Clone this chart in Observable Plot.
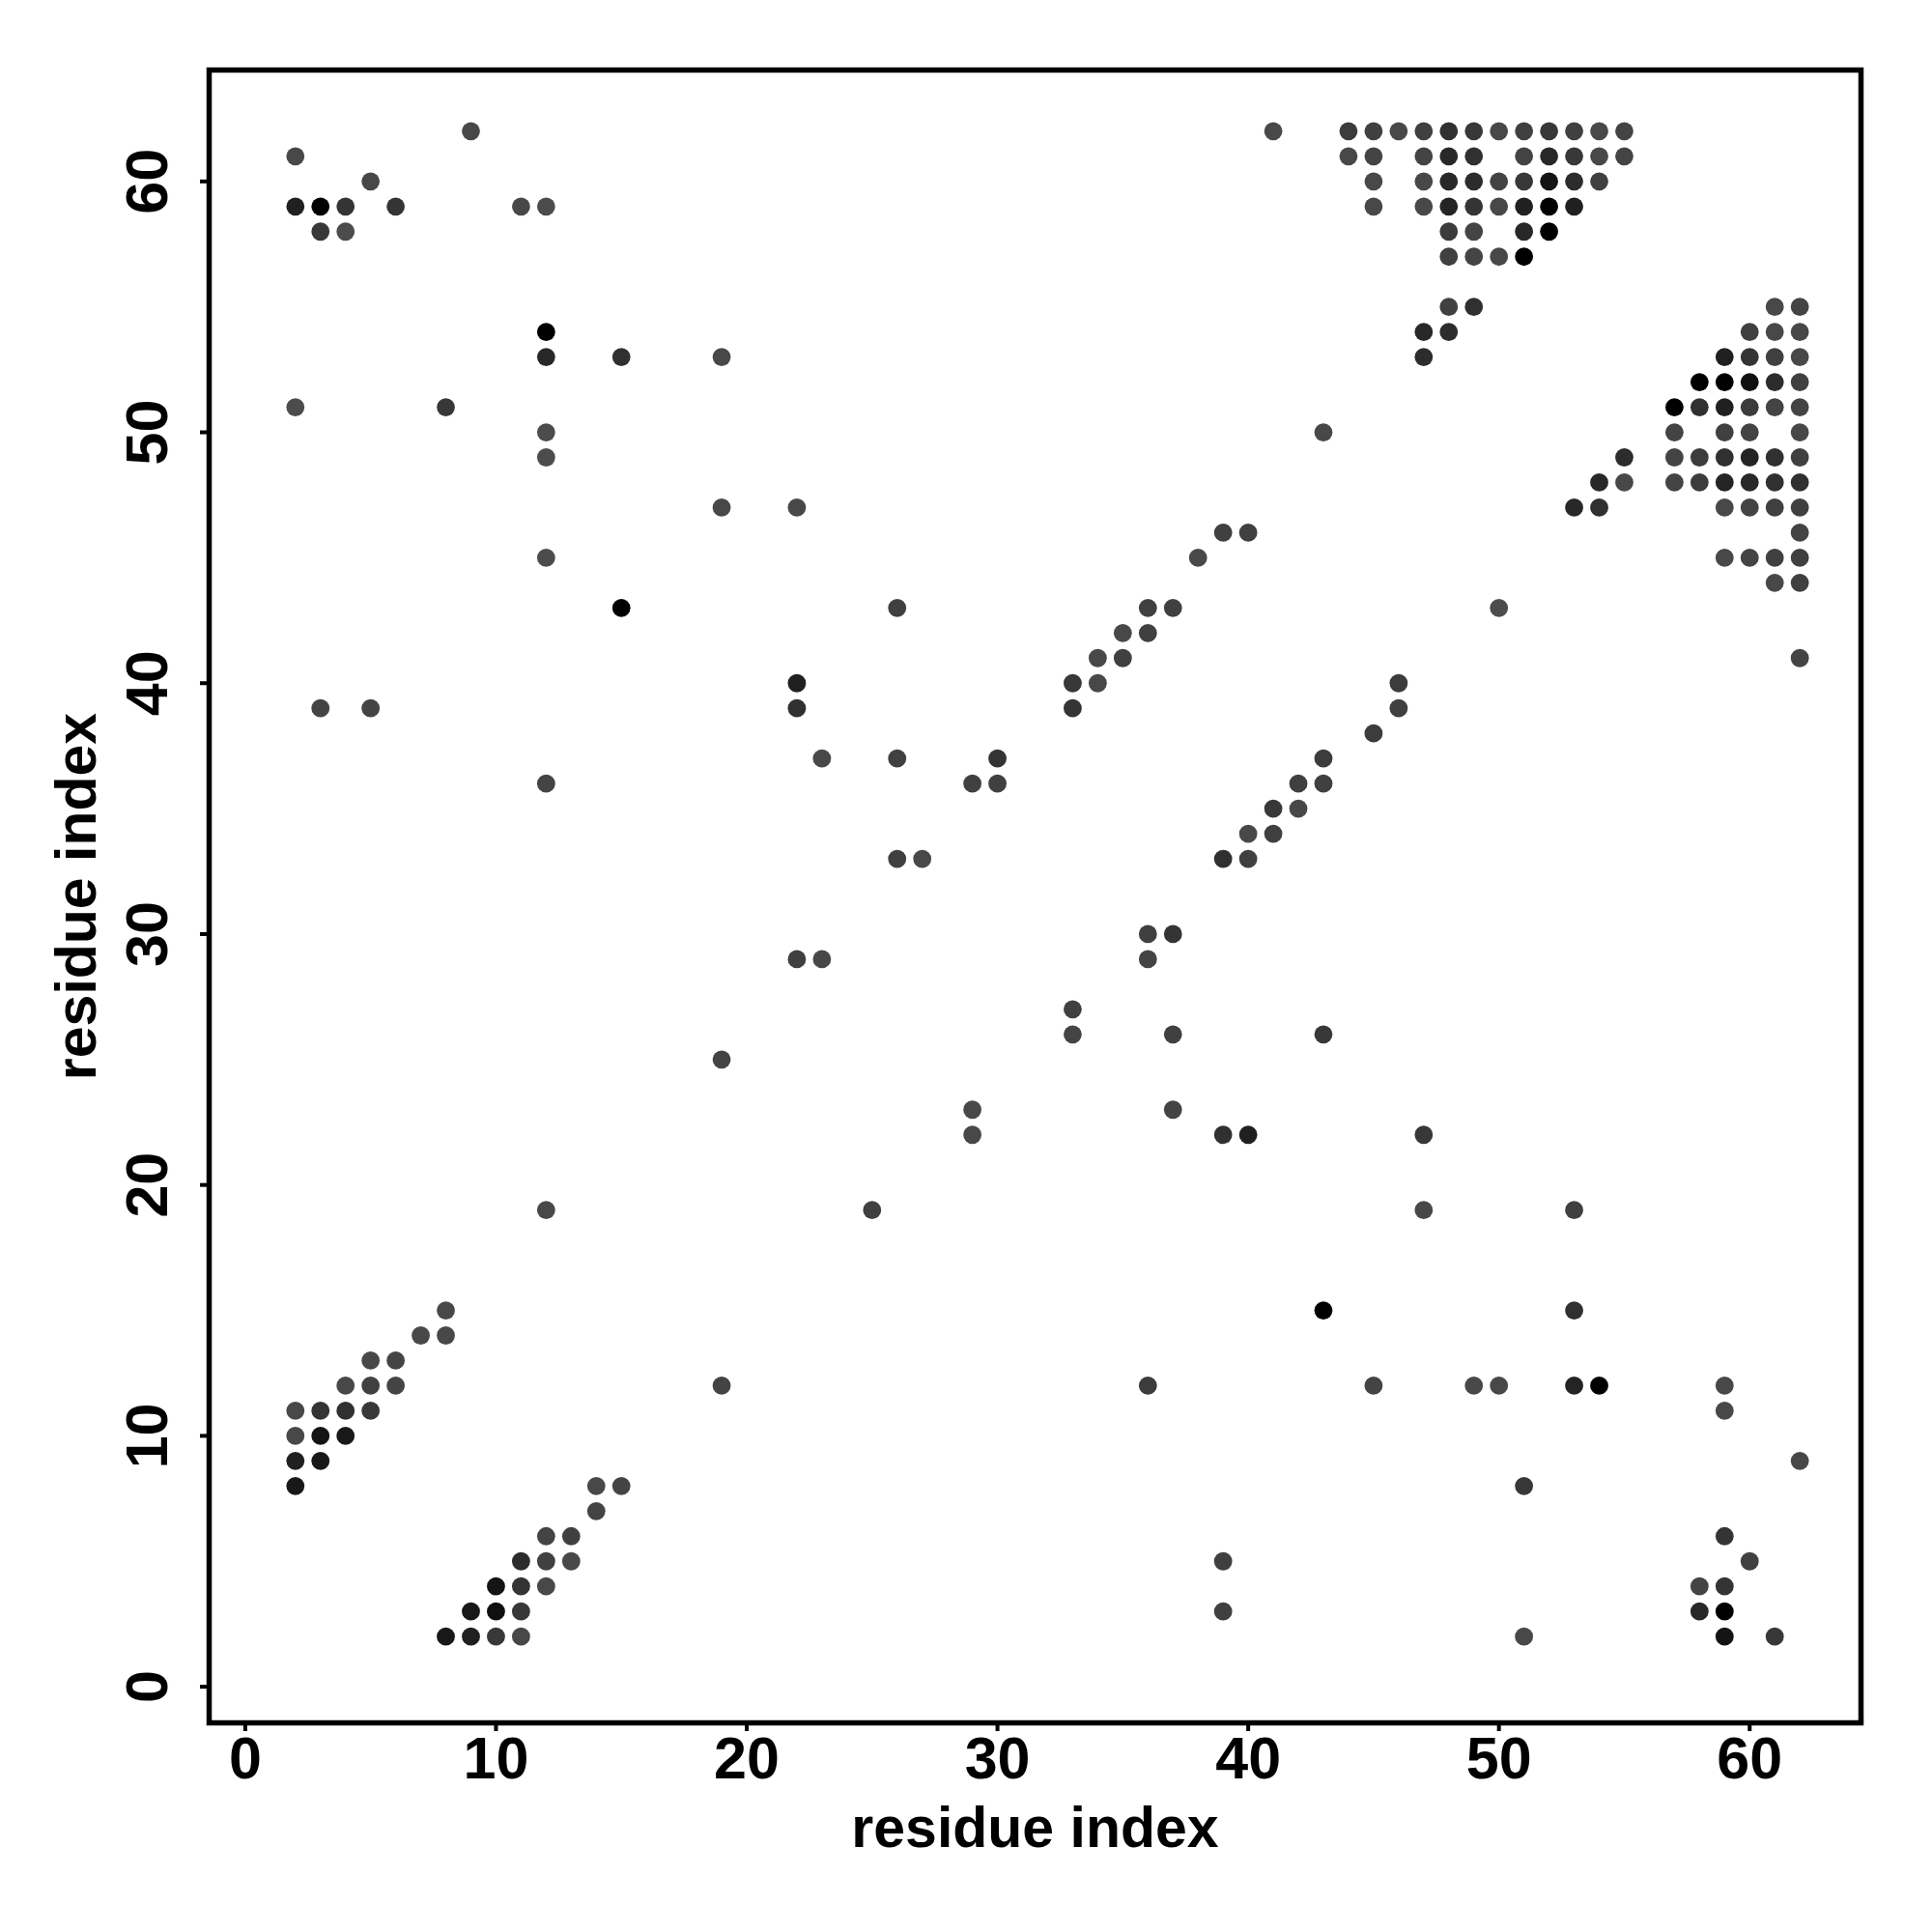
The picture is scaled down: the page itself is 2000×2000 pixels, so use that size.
<!DOCTYPE html>
<html>
<head>
<meta charset="utf-8">
<script src="https://cdn.jsdelivr.net/npm/d3@7"></script>
<script src="https://cdn.jsdelivr.net/npm/@observablehq/plot@0.6"></script>
<style>
  html, body { margin: 0; padding: 0; background: #ffffff; }
  #chart svg { display: block; }
</style>
</head>
<body>
<div id="chart"></div>
<script>
// Contacts: [residue i (x), residue j (y), strength 0..1 (0 = grey, 1 = black)]
const topLeftContacts = [
  [2,61,.1],[9,62,.1],[5,60,.1],[2,59,.6],[3,59,1],[4,59,.35],[6,59,.35],[11,59,.1],[12,59,.05],
  [3,58,.3],[4,58,.05],[12,54,1],[12,53,.5],[15,53,.4],[19,53,.1],[2,51,.05],[8,51,.3],
  [12,50,.05],[12,49,.05],[19,47,.1],[22,47,.1],[12,45,.05],[15,43,1],[26,43,.2],
  [3,39,.15],[5,39,.15],[22,40,.6],[22,39,.4],[23,37,.1],[26,37,.2],[12,36,.15],
  [29,36,.2],[30,36,.2],[30,37,.35],[26,33,.2],[27,33,.1],[22,29,.2],[23,29,.1],
  [19,25,.15],[29,23,.1],[29,22,.1],[25,19,.2],[12,19,.1],[19,12,.15]
];
const diagonalContacts = [
  [33,40,.3],[33,39,.35],[34,41,.1],[34,40,.1],[35,42,.1],[35,41,.2],[36,43,.2],[36,42,.2],
  [37,43,.2],[38,45,.1],[39,46,.2],[40,46,.2],[41,62,.1],[43,50,.1],[50,43,.05],
  [39,33,.4],[40,33,.2],[40,34,.1],[41,34,.2],[41,35,.3],[42,35,.1],[42,36,.2],[43,36,.2],
  [43,37,.25],[45,38,.25],[46,39,.2],[46,40,.25],[62,41,.15]
];
const lowerRightContacts = [
  [33,27,.2],[33,26,.15],[36,30,.2],[37,30,.35],[36,29,.15],[37,26,.2],[37,23,.15],
  [39,22,.4],[40,22,.6],[43,26,.3],[47,22,.3],[47,19,.1],[53,19,.2],[43,15,1],[53,15,.4],
  [36,12,.25],[45,12,.15],[49,12,.1],[50,12,.1],[53,12,.55],[54,12,1],[59,12,.1],[59,11,.1],
  [62,9,.1],[51,8,.3],[39,5,.2],[39,3,.2],[59,6,.35],[60,5,.2],[58,4,.15],[59,4,.35],
  [58,3,.5],[59,3,1],[51,2,.1],[59,2,.75],[61,2,.3]
];
const bottomLeftContacts = [
  [8,15,.1],[7,14,.1],[8,14,.1],[5,13,.1],[6,13,.15],[4,12,.1],[5,12,.2],[6,12,.15],
  [2,11,.1],[3,11,.35],[4,11,.4],[5,11,.3],[2,10,.1],[3,10,.75],[4,10,.7],[2,9,.6],[3,9,.7],
  [2,8,.7],[14,8,.1],[15,8,.15],[14,7,.15],[12,6,.15],[13,6,.2],[11,5,.45],[12,5,.2],
  [13,5,.1],[10,4,.75],[11,4,.35],[12,4,.1],[9,3,.7],[10,3,.8],[11,3,.3],[8,2,.7],[9,2,.6],
  [10,2,.3],[11,2,.1]
];
const topRightContacts = [
  [44,62,.25],[45,62,.2],[46,62,.1],[47,62,.2],[48,62,.4],[49,62,.3],[50,62,.1],[51,62,.2],
  [52,62,.3],[53,62,.2],[54,62,.1],[55,62,.15],
  [44,61,.1],[45,61,.15],[47,61,.15],[48,61,.5],[49,61,.4],[51,61,.15],[52,61,.5],[53,61,.3],
  [54,61,.1],[55,61,.15],
  [45,60,.1],[47,60,.1],[48,60,.5],[49,60,.45],[50,60,.15],[51,60,.3],[52,60,.75],[53,60,.45],[54,60,.2],
  [45,59,.1],[47,59,.1],[48,59,.55],[49,59,.35],[50,59,.1],[51,59,.6],[52,59,1],[53,59,.6],
  [48,58,.25],[49,58,.15],[51,58,.5],[52,58,1],
  [48,57,.2],[49,57,.15],[50,57,.1],[51,57,1],
  [48,55,.2],[49,55,.4],[47,54,.5],[48,54,.45],[47,53,.45]
];
const rightClusterContacts = [
  [61,55,.1],[62,55,.15],
  [60,54,.2],[61,54,.1],[62,54,.1],
  [59,53,.6],[60,53,.35],[61,53,.2],[62,53,.1],
  [58,52,1],[59,52,1],[60,52,.8],[61,52,.45],[62,52,.2],
  [57,51,1],[58,51,.4],[59,51,.6],[60,51,.25],[61,51,.15],[62,51,.15],
  [57,50,.15],[59,50,.2],[60,50,.15],[62,50,.1],
  [55,49,.45],[57,49,.15],[58,49,.25],[59,49,.4],[60,49,.55],[61,49,.4],[62,49,.2],
  [54,48,.5],[55,48,.1],[57,48,.15],[58,48,.25],[59,48,.55],[60,48,.5],[61,48,.4],[62,48,.4],
  [53,47,.5],[54,47,.4],[59,47,.1],[60,47,.15],[61,47,.2],[62,47,.2],
  [62,46,.15],
  [59,45,.1],[60,45,.15],[61,45,.2],[62,45,.2],
  [61,44,.1],[62,44,.2]
];
const tickValues = [0, 10, 20, 30, 40, 50, 60];
const axisTitle = "residue index";

const contacts = [
  ...topLeftContacts, ...diagonalContacts, ...lowerRightContacts,
  ...bottomLeftContacts, ...topRightContacts, ...rightClusterContacts
].map(([i, j, s]) => ({i, j, s}));

const font = "'Liberation Sans', Arial, Helvetica, sans-serif";
const domain = [-1.44, 64.44];

const chart = Plot.plot({
  width: 2000,
  height: 2000,
  marginLeft: 216,
  marginRight: 74,
  marginTop: 72,
  marginBottom: 217,
  style: {fontFamily: font, background: "#ffffff"},
  x: {domain},
  y: {domain},
  color: {type: "linear", domain: [0, 1], range: ["#505050", "#000000"]},
  marks: [
    Plot.dot(contacts, {x: "i", y: "j", r: 9.4, fill: "s", stroke: null}),
    Plot.frame({stroke: "black", strokeWidth: 5.5}),
    Plot.axisX({ticks: tickValues, tickSize: 9, strokeWidth: 4, tickFormat: () => "", label: null}),
    Plot.axisY({ticks: tickValues, tickSize: 9, strokeWidth: 4, tickFormat: () => "", label: null}),
    Plot.text(tickValues, {x: d => d, text: d => String(d), frameAnchor: "bottom",
      textAnchor: "middle", lineAnchor: "top", dy: 14, fontSize: 61, fontWeight: "bold", fill: "black"}),
    Plot.text(tickValues, {y: d => d, text: d => String(d), frameAnchor: "left",
      rotate: -90, textAnchor: "middle", lineAnchor: "bottom", dx: -44,
      fontSize: 61, fontWeight: "bold", fill: "black"}),
    Plot.text([axisTitle], {text: d => d, frameAnchor: "bottom", textAnchor: "middle",
      lineAnchor: "bottom", dy: 128, fontSize: 59, fontWeight: "bold", fill: "black"}),
    Plot.text([axisTitle], {text: d => d, frameAnchor: "left", rotate: -90, textAnchor: "middle",
      lineAnchor: "bottom", dx: -118, fontSize: 59, fontWeight: "bold", fill: "black"})
  ]
});
document.getElementById("chart").appendChild(chart);
</script>
</body>
</html>
